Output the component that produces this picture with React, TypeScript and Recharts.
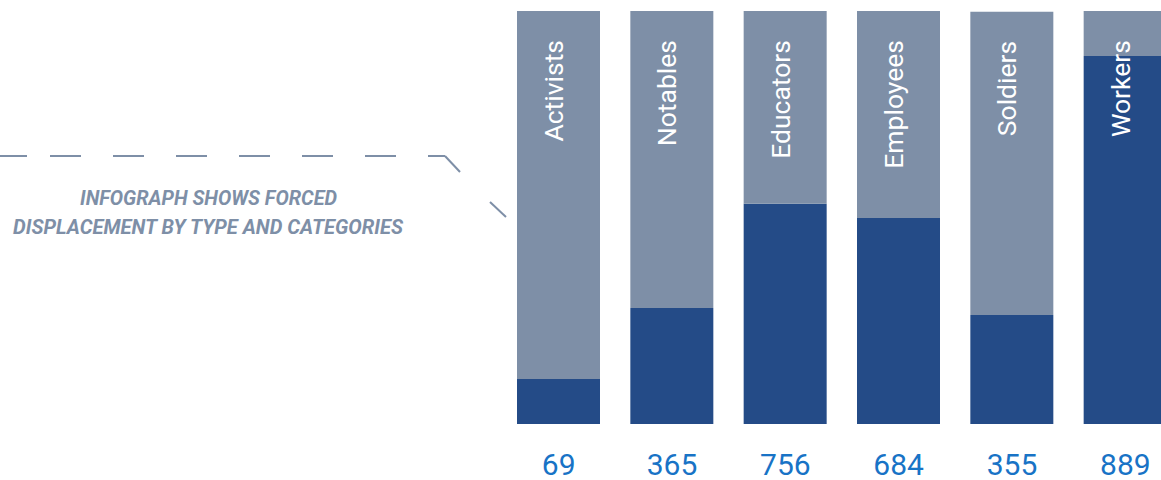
import React from 'react';
import { BarChart, Bar, XAxis, YAxis, LabelList } from 'recharts';

// categories and values
const categories = ['Activists', 'Notables', 'Educators', 'Employees', 'Soldiers', 'Workers'];
const counts = [69, 365, 756, 684, 355, 889];
// share of each bar (percent): dark lower part, light upper part
const darkShare = [10.9, 28.1, 53.3, 49.9, 26.4, 89.1];
const lightShare = [89.1, 71.9, 46.7, 50.1, 73.4, 10.9];

const DARK = '#244b87';
const LIGHT = '#7e8fa7';
const NUM_BLUE = '#1873c6';

const data = categories.map((name, i) => ({
  name,
  count: counts[i],
  dark: darkShare[i],
  light: lightShare[i],
}));

const CountTick = (props: any) => {
  const { x, y, payload } = props;
  return (
    <text
      x={x}
      y={y + 43}
      textAnchor="middle"
      fill={NUM_BLUE}
      fontFamily="Roboto"
      fontSize={30}
      fontWeight={400}
    >
      {payload.value}
    </text>
  );
};

const NameLabel = (props: any) => {
  const { x, y, width, value } = props;
  const lx = x + width / 2 + 4.5;
  const ly = y + 29;
  return (
    <text
      x={lx}
      y={ly}
      transform={`rotate(-90, ${lx}, ${ly})`}
      textAnchor="end"
      fill="#ffffff"
      fontFamily="Roboto"
      fontSize={26.5}
    >
      {value}
    </text>
  );
};

const Caption = () => (
  <svg width={520} height={260} style={{ position: 'absolute', left: 0, top: 0 }}>
    <g stroke={LIGHT} strokeWidth={2} fill="none">
      <line x1={0} y1={156} x2={27} y2={156} />
      <path d="M50,156 H445" strokeDasharray="31 32" />
      <line x1={445} y1={156} x2={460} y2={172} />
      <line x1={490} y1={202} x2={506} y2={217} />
    </g>
    <g fill={LIGHT} fontFamily="Roboto" fontWeight={700} fontStyle="italic" fontSize={21}>
      <text x={80} y={205} textLength={257} lengthAdjust="spacingAndGlyphs">
        INFOGRAPH SHOWS FORCED
      </text>
      <text x={13} y={234} textLength={390} lengthAdjust="spacingAndGlyphs">
        DISPLACEMENT BY TYPE AND CATEGORIES
      </text>
    </g>
  </svg>
);

export default function App() {
  return (
    <div
      style={{
        position: 'absolute',
        left: 0,
        top: 0,
        width: 1161,
        height: 480,
        overflow: 'hidden',
        background: '#ffffff',
      }}
    >
      <div style={{ position: 'absolute', left: 0, top: 0 }}>
        <BarChart
          width={1190}
          height={490}
          data={data}
          margin={{ top: 11, right: 8, bottom: 0, left: 502 }}
        >
          <YAxis hide domain={[0, 100]} />
          <XAxis
            dataKey="count"
            axisLine={false}
            tickLine={false}
            height={66}
            interval={0}
            tick={<CountTick />}
          />
          <Bar dataKey="dark" stackId="a" fill={DARK} barSize={83} isAnimationActive={false} />
          <Bar dataKey="light" stackId="a" fill={LIGHT} barSize={83} isAnimationActive={false}>
            <LabelList dataKey="name" content={<NameLabel />} />
          </Bar>
        </BarChart>
      </div>
      <Caption />
    </div>
  );
}
